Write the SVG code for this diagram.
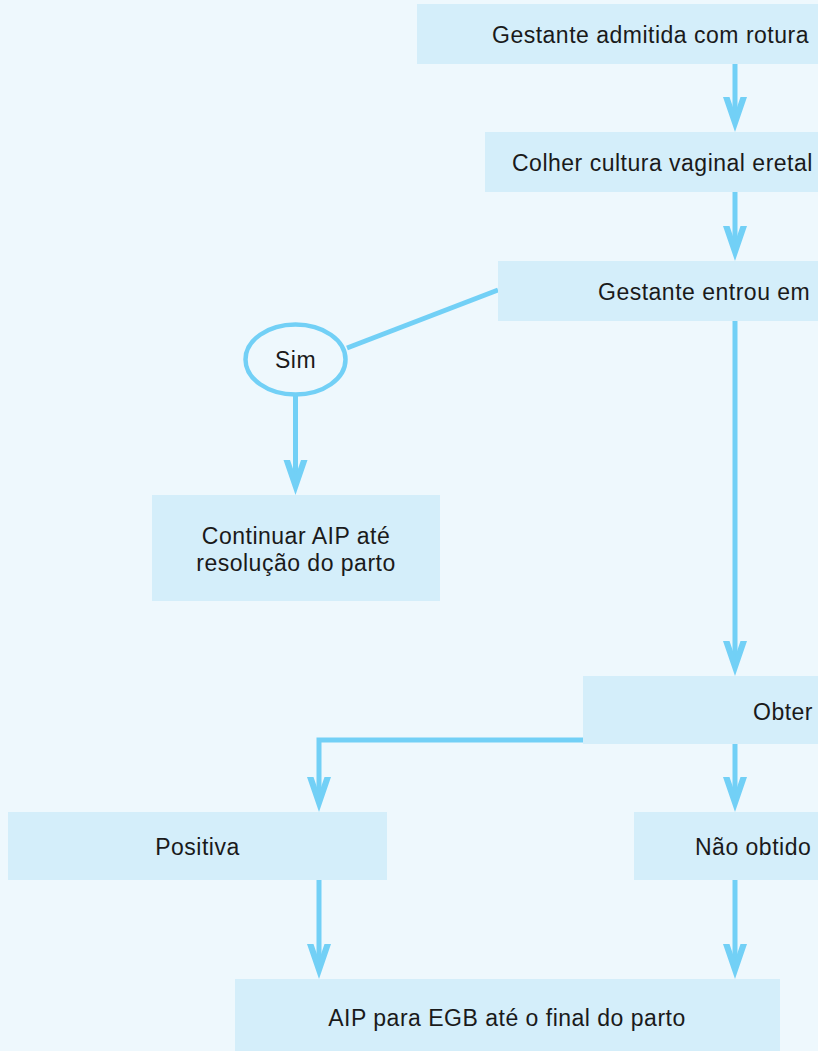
<svg xmlns="http://www.w3.org/2000/svg" width="818" height="1051" viewBox="0 0 818 1051">
  <defs>
    <style>
      .box { fill: #D4EEFA; }
      .lbl { font-family: "Liberation Sans", Arial, sans-serif; font-size: 23px; letter-spacing: 0.5px; fill: #1A1A1A; }
      .mid { text-anchor: middle; }
      .con { fill: none; stroke: #72D0F6; stroke-width: 5; }
    </style>
    <marker id="ah" markerUnits="userSpaceOnUse" markerWidth="36" markerHeight="24" viewBox="0 0 36 24" refX="23" refY="12" orient="auto" overflow="visible">
      <path d="M0,0 L35,12 L0,24 L0,17.5 L16,12 L0,6.5 Z" fill="#72D0F6"/>
    </marker>
  </defs>
  <rect x="0" y="0" width="818" height="1051" fill="#EEF8FD"/>

  <g id="connectors">
    <line class="con" x1="735" y1="64" x2="735" y2="120" marker-end="url(#ah)"/>
    <line class="con" x1="735" y1="192" x2="735" y2="249" marker-end="url(#ah)"/>
    <line class="con" x1="498" y1="290" x2="347" y2="348"/>
    <line class="con" x1="295.5" y1="396" x2="295.5" y2="483" marker-end="url(#ah)"/>
    <line class="con" x1="735" y1="321" x2="735" y2="664" marker-end="url(#ah)"/>
    <polyline class="con" points="584,740 319,740 319,800" marker-end="url(#ah)"/>
    <line class="con" x1="735" y1="744" x2="735" y2="800" marker-end="url(#ah)"/>
    <line class="con" x1="319" y1="880" x2="319" y2="967" marker-end="url(#ah)"/>
    <line class="con" x1="735" y1="880" x2="735" y2="967" marker-end="url(#ah)"/>
  </g>

  <g id="n1">
    <rect class="box" x="417" y="4" width="401" height="60"/>
    <text class="lbl" x="492" y="43">Gestante admitida com rotura</text>
  </g>
  <g id="n2">
    <rect class="box" x="485" y="132" width="333" height="60"/>
    <text class="lbl" x="512" y="171">Colher cultura vaginal eretal</text>
  </g>
  <g id="n3">
    <rect class="box" x="498" y="261" width="320" height="60"/>
    <text class="lbl" x="598" y="300">Gestante entrou em</text>
  </g>
  <g id="sim">
    <ellipse cx="295.5" cy="359.5" rx="50" ry="35" fill="#EEF8FD" stroke="#72D0F6" stroke-width="4.5"/>
    <text class="lbl mid" x="295.5" y="368">Sim</text>
  </g>
  <g id="n4">
    <rect class="box" x="152" y="495" width="288" height="106"/>
    <text class="lbl mid" x="296" y="544">Continuar AIP até</text>
    <text class="lbl mid" x="296" y="571">resolução do parto</text>
  </g>
  <g id="n5">
    <rect class="box" x="583" y="676" width="235" height="68"/>
    <text class="lbl" x="753" y="720">Obter</text>
  </g>
  <g id="n6">
    <rect class="box" x="8" y="812" width="379" height="68"/>
    <text class="lbl mid" x="197.5" y="855">Positiva</text>
  </g>
  <g id="n7">
    <rect class="box" x="634" y="812" width="184" height="68"/>
    <text class="lbl" x="695" y="855">Não obtido</text>
  </g>
  <g id="n8">
    <rect class="box" x="235" y="979" width="545" height="72"/>
    <text class="lbl mid" x="507" y="1026">AIP para EGB até o final do parto</text>
  </g>
</svg>
